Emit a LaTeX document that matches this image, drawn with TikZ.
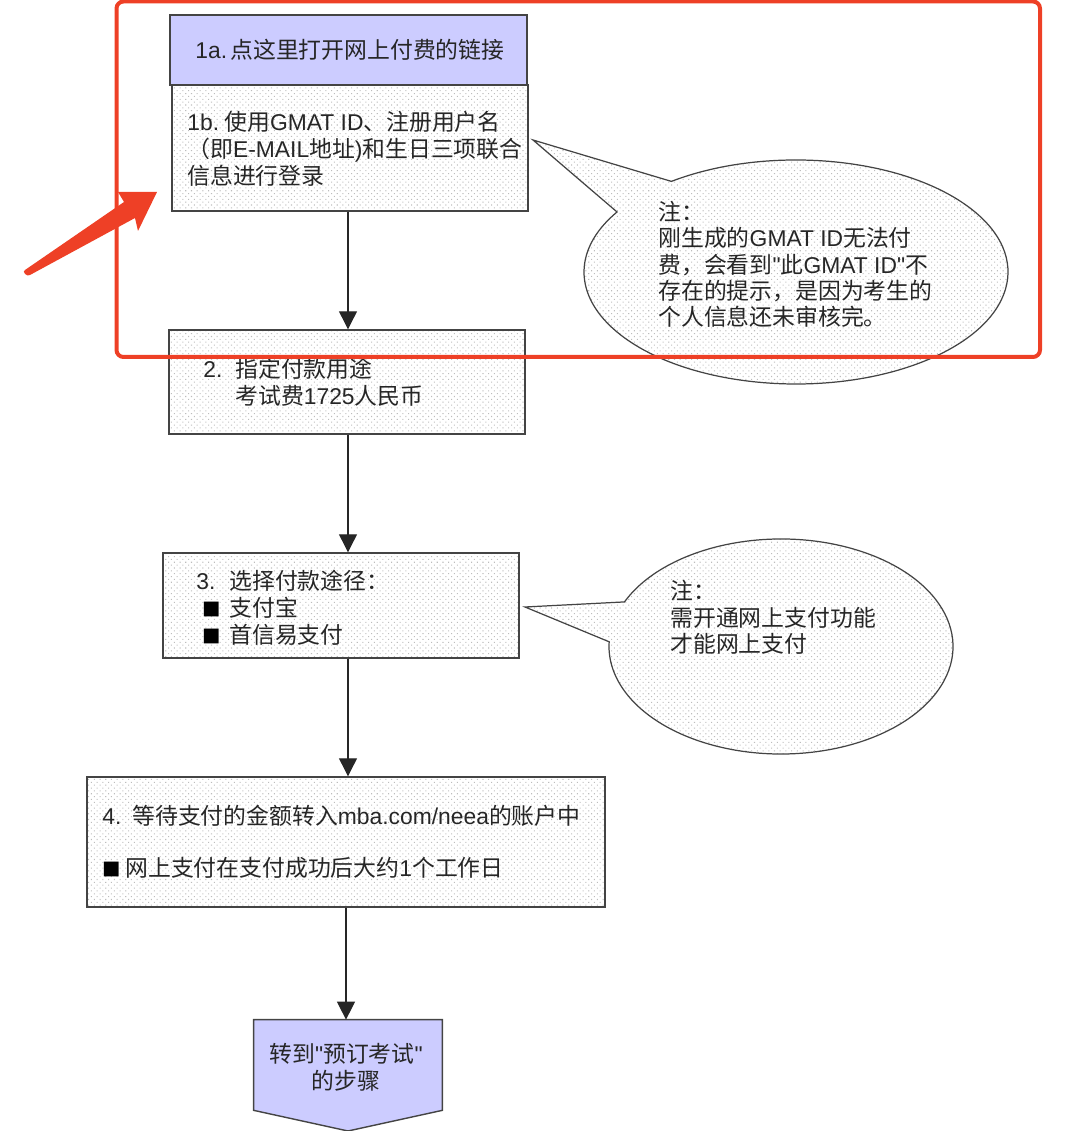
\documentclass[tikz,border=0pt]{standalone}
\usepackage{fontspec}
\setmainfont{Noto Sans CJK SC}
\newfontfamily\lat{Liberation Sans}
\usetikzlibrary{arrows.meta, patterns.meta}
\definecolor{boxline}{HTML}{444444}
\definecolor{linkfill}{HTML}{CCCCFF}
\definecolor{markred}{HTML}{EE4026}
\tikzset{
	dither/.style={pattern={Dots[radius=0.42pt, distance=2.3pt, angle=45]}, pattern color=black!26},
	flowbox/.style={shape=rectangle, draw=boxline, line width=0.8pt, dither},
	linkbox/.style={shape=rectangle, draw=boxline, line width=0.8pt, fill=linkfill},
	boxtext/.style={anchor=west, align=left, inner sep=0pt, text=black!85, font=\fontsize{13}{15.4}\selectfont},
	notebox/.style={draw=boxline, line width=0.7pt, dither},
	flowarrow/.style={draw=black!85, line width=0.7pt, -{Triangle[length=0.36cm, width=0.36cm]}}
}
\newcommand{\lead}[2]{\makebox[#1][l]{#2}}
\newcommand{\bulletmark}{{\fontsize{10.5}{10.5}\selectfont\color{black}■}}

\begin{document}
\begin{tikzpicture}
	\useasboundingbox (0, 0) rectangle (21.6, 22.62);
	% Boxes and their texts:
	\node[linkbox, minimum width=7.14cm, minimum height=1.4cm] (link) at (6.97, 21.62){} node[boxtext] (linktext) at (3.9, 21.62){\lead{0.7cm}{\lat 1a.}点这里打开网上付费的链接};
	\node[flowbox, minimum width=7.12cm, minimum height=2.52cm] (login) at (7, 19.66){} node[boxtext] (logintext) at (3.74, 19.64){\lead{0.74cm}{\lat 1b.}使用{\lat GMAT ID}、注册用户名\\（即{\lat E-MAIL}地址{\lat )}和生日三项联合\\信息进行登录};
	\node[flowbox, minimum width=7.12cm, minimum height=2.08cm] (purpose) at (6.94, 14.98){} node[boxtext] (purposetext) at (4.06, 14.97){\lead{0.64cm}{\lat 2.}指定付款用途\\\lead{0.64cm}{}考试费{\lat 1725}人民币};
	\node[flowbox, minimum width=7.12cm, minimum height=2.1cm] (channel) at (6.82, 10.51){} node[boxtext] (channeltext) at (3.92, 10.46){\lead{0.66cm}{\lat 3.}选择付款途径：\\\lead{0.66cm}{\hspace{0.12cm}\bulletmark}支付宝\\\lead{0.66cm}{\hspace{0.12cm}\bulletmark}首信易支付};
	\node[flowbox, minimum width=10.36cm, minimum height=2.6cm] (wait) at (6.92, 5.78){} node[boxtext] (waittext) at (2.04, 5.78){\lead{0.6cm}{\lat 4.}等待支付的金额转入{\lat mba.com/neea}的账户中\\[0.5cm]\lead{0.46cm}{\bulletmark}网上支付在支付成功后大约{\lat 1}个工作日};
	\node[shape=rectangle, minimum width=3.76cm, minimum height=1.8cm] (next) at (6.96, 1.32){};
	\path[linkbox] (next.north west) -- (next.north east) -- (next.south east) -- (6.96, 0) -- (next.south west) -- cycle;
	\node[boxtext, anchor=center, align=center] (nexttext) at (6.92, 1.28){转到{\lat "}预订考试{\lat "}\\的步骤};
	% Wires:
	\coordinate (spine) at (6.96, 0);
	\coordinate (spinelow) at (6.92, 0);
	\draw[flowarrow] (login.south -| spine) -- (purpose.north -| spine);
	\draw[flowarrow] (purpose.south -| spine) -- (channel.north -| spine);
	\draw[flowarrow] (channel.south -| spine) -- (wait.north -| spine);
	\draw[flowarrow] (wait.south -| spinelow) -- (next.north -| spinelow);
	% Callouts:
	\coordinate (notetip) at (10.66, 19.82);
	\coordinate (paytip) at (10.5, 10.48);
	\path[notebox] (notetip) -- ([shift={(126:4.24 and 2.24)}]15.92, 17.18) arc[start angle=126, end angle=-212.4, x radius=4.24, y radius=2.24] -- cycle;
	\path[notebox] (paytip) -- ([shift={(155.5:3.44 and 2.15)}]15.62, 9.69) arc[start angle=155.5, end angle=-182.5, x radius=3.44, y radius=2.15] -- cycle;
	\node[boxtext, font=\fontsize{13}{15}\selectfont] (notetext) at (13.16, 17.33){注：\\刚生成的{\lat GMAT ID}无法付\\费，会看到{\lat "}此{\lat GMAT ID"}不\\存在的提示，是因为考生的\\个人信息还未审核完。};
	\node[boxtext, font=\fontsize{13}{15}\selectfont] (paytext) at (13.4, 10.27){注：\\需开通网上支付功能\\才能网上支付};
	% Red marks on top:
	\draw[markred, line width=0.08cm, rounded corners=0.14cm] (2.33, 22.59) rectangle (20.8, 15.48);
	\fill[markred] (3.14, 18.78) -- (2.36, 18.78) -- (2.48, 18.58) -- (0.5, 17.22) to[out=200, in=220, looseness=1.4] (0.6, 17.12) -- (2.7, 18.26) -- (2.76, 18) -- cycle;
\end{tikzpicture}
\end{document}
